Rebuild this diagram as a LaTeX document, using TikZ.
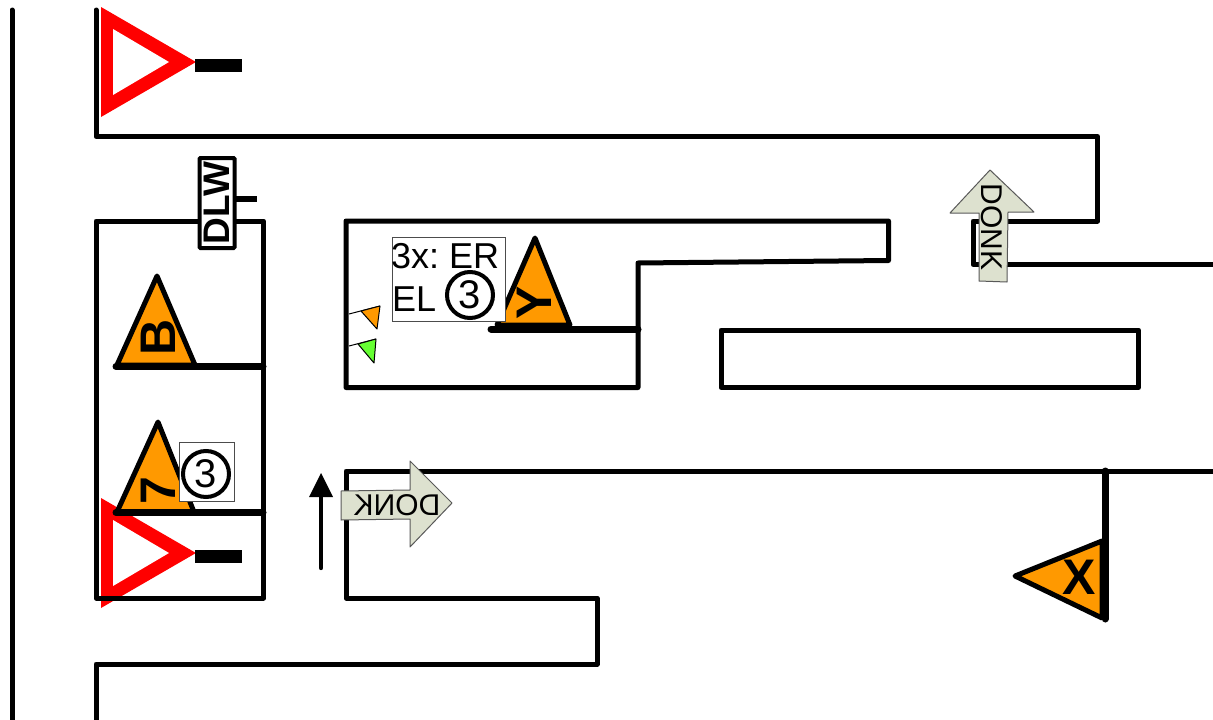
\documentclass[tikz,border=0pt]{standalone}
\usepackage{fontspec}
\setmainfont{Liberation Sans}
\frenchspacing
\definecolor{warn}{HTML}{FF9900}
\definecolor{donk}{HTML}{DDE1CF}
\definecolor{okgreen}{HTML}{66FF33}
\newcommand{\szA}{\fontsize{50}{50}\selectfont\bfseries}
\newcommand{\szB}{\fontsize{36}{36}\selectfont}
\newcommand{\szC}{\fontsize{30}{30}\selectfont}
\tikzset{
  track/.style={draw=black,line width=5pt,line join=round,line cap=round},
  heavy/.style={draw=black,line width=7pt,line cap=round},
  sign/.style={draw=black,line width=5pt,line join=round,fill=warn},
  redtri/.style={fill=red},
  whitetri/.style={fill=white},
  bar/.style={fill=black},
  donkarrow/.style={draw=black!65,line width=1pt,fill=donk,line join=round},
  label/.style={inner sep=0pt,outer sep=0pt},
  signlabel/.style={label,font=\szA},
  tag/.style={draw=black!70,line width=0.8pt,fill=white},
  num/.style={circle,draw=black,line width=4pt,minimum size=46pt,inner sep=0pt,font=\fontsize{40}{40}\selectfont},
  flagline/.style={draw=black,line width=1pt},
  flagtri/.style={draw=black,line width=1pt,line join=round}
}
\begin{document}
\begin{tikzpicture}[x=1pt,y=-1pt]
\useasboundingbox (0,0) rectangle (1213,720);
% red triangles
\foreach \dy in {0,491}{
  \fill[redtri] (101,7+\dy) -- (196,62+\dy) -- (101,117+\dy) -- cycle;
  \fill[whitetri] (113,29+\dy) -- (169,62+\dy) -- (113,95+\dy) -- cycle;
  \fill[bar] (195,59+\dy) rectangle (242,72+\dy);
}
% tracks
\draw[track] (12,10) -- (12,720);
\draw[track] (96,10) -- (96,136.500) -- (1097.500,136.500) -- (1097.500,221) -- (973,221) -- (973,264.500) -- (1213,264.500);
\draw[track] (96,221) -- (263.500,221) -- (263.500,598) -- (96,598) -- cycle;
\draw[track] (346,221) -- (888.500,221) -- (888.500,260.500) -- (638,263) -- (638,387.500) -- (346,387.500) -- cycle;
\draw[track] (721,330) -- (1138.500,330) -- (1138.500,387.500) -- (721,387.500) -- cycle;
\draw[track] (1213,471) -- (346,471) -- (346,598) -- (597,598) -- (597,664) -- (96,664) -- (96,720);
% signs
\draw[sign] (157,276) -- (195,365) -- (117,365) -- cycle;
\draw[sign] (158,422) -- (194,512) -- (117,512) -- cycle;
\draw[sign] (535,238) -- (570,325) -- (497,325) -- cycle;
\draw[sign] (1015,576) -- (1102,541) -- (1102,618) -- cycle;
\node[signlabel,rotate=90] (lb) at (158,337) {B};
\node[signlabel,rotate=90] (l7) at (158,491) {7};
\node[signlabel,rotate=90] (ly) at (534,303) {Y};
\node[signlabel] (lx) at (1079,577) {X};
% heavy lines
\draw[heavy] (116,366.500) -- (263,366.500);
\draw[heavy] (116,512.500) -- (263,512.500);
\draw[heavy] (491,329) -- (638,329);
\draw[heavy] (1105,471) -- (1105,619);
% DLW
\draw[line width=5.500pt] (235,199) -- (257,199);
\node[draw=black,line width=4pt,fill=white,rounded corners=1pt,rotate=90,minimum width=90pt,minimum height=35pt,inner sep=0pt,font=\fontsize{37}{37}\selectfont\bfseries] (dlw) at (217,203) {DLW};
% tags
\node[tag,minimum width=113pt,minimum height=84pt] (tagA) at (448.500,279) {};
\node[label,anchor=base west,font=\szB] (er) at (391,268) {3x: ER};
\node[label,anchor=base west,font=\szB] (el) at (392,311) {EL};
\node[num] (na) at (470,295) {3};
\node[tag,minimum width=55pt,minimum height=59pt] (tagB) at (206.500,471.500) {};
\node[num] (nb) at (206,474) {3};
% small flags
\draw[flagline] (349,314) -- (380,306);
\draw[flagtri,fill=warn] (361,311) -- (380,306) -- (377,329) -- cycle;
\draw[flagline] (349,346) -- (376,339);
\draw[flagtri,fill=okgreen] (358,344) -- (376,339) -- (374,363) -- cycle;
% up arrow plain
\coordinate (as) at (321,568);
\coordinate (at) at (321,490);
\draw[line width=4.400pt,line cap=round] (as) -- (at);
\fill[black] (321,473) -- (333,497) -- (309,497) -- cycle;
% DONK arrows
\draw[donkarrow] (990,170) -- (1034,212) -- (1008,212) -- (1007,282) -- (979,281) -- (979,213) -- (950,213) -- cycle;
\node[label,rotate=-90,font=\szC] (d1) at (992,227) {DONK};
\draw[donkarrow] (452,503) -- (410,547) -- (410,519) -- (341,520) -- (341,491) -- (410,490) -- (410,461) -- cycle;
\node[label,xscale=-1,font=\szC] (d2) at (397,505) {DONK};
\end{tikzpicture}
\end{document}
